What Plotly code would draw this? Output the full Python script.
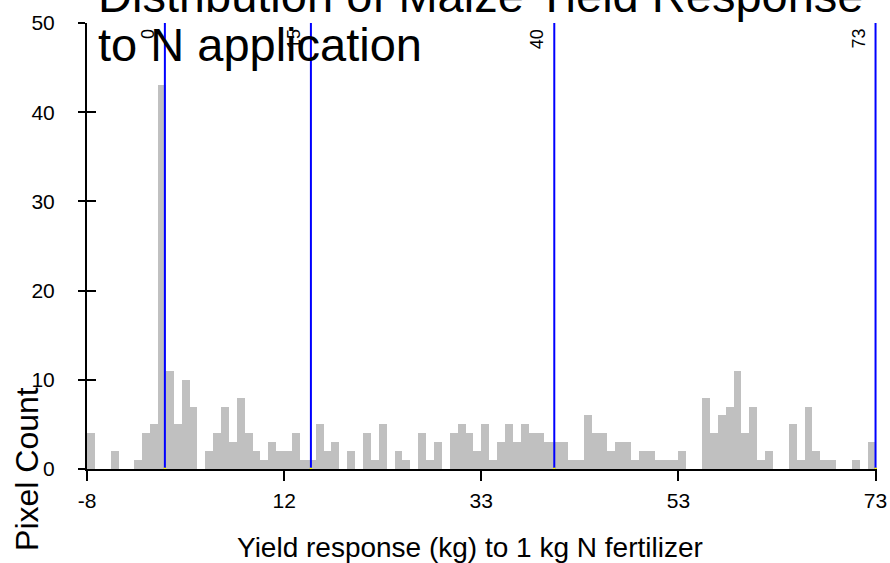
import plotly.graph_objects as go

# Histogram of maize yield response (kg grain per kg N), 100 equal bins
bin_start = -8.0
bin_width = 0.81
pixel_counts = [
    4, 0, 0, 2, 0, 0, 1, 4, 5, 43,
    11, 5, 10, 7, 0, 2, 4, 7, 3, 8,
    4, 2, 1, 3, 2, 2, 4, 1, 1, 5,
    2, 3, 0, 2, 0, 4, 1, 5, 0, 2,
    1, 0, 4, 1, 3, 0, 4, 5, 4, 2,
    5, 1, 3, 5, 3, 5, 4, 4, 3, 3,
    3, 1, 1, 6, 4, 4, 2, 3, 3, 1,
    2, 2, 1, 1, 1, 2, 0, 0, 8, 4,
    6, 7, 11, 4, 7, 1, 2, 0, 0, 5,
    1, 7, 2, 1, 1, 0, 0, 1, 0, 3,
]

# Class break values marked on the histogram
class_breaks = [0, 15, 40, 73]
break_labels = ["0", "15", "40", "73"]

# Axis ticks
x_tickvals = [-8, 12.25, 32.5, 52.75, 73]
x_ticktext = ["-8", "12", "33", "53", "73"]
y_tickvals = [0, 10, 20, 30, 40, 50]

bin_centers = [bin_start + bin_width * (i + 0.5) for i in range(len(pixel_counts))]

text_font = "Liberation Sans, Arial, sans-serif"
tick_font = dict(family=text_font, size=21, color="black")

fig = go.Figure()

fig.add_trace(go.Bar(
    x=bin_centers,
    y=pixel_counts,
    width=bin_width,
    marker=dict(color="#C0C0C0", line=dict(width=0)),
    showlegend=False,
    hoverinfo="x+y",
))

# Vertical class-break lines
line_x, line_y = [], []
for b in class_breaks:
    line_x += [b, b, None]
    line_y += [0, 50, None]
fig.add_trace(go.Scatter(
    x=line_x, y=line_y, mode="lines",
    line=dict(color="#0000FF", width=2),
    yaxis="y2", showlegend=False, hoverinfo="skip", cliponaxis=False,
))
fig.add_trace(go.Scatter(
    x=class_breaks, y=[0] * len(class_breaks), mode="markers",
    marker=dict(color="#FFFF00", size=3, line=dict(width=0)),
    yaxis="y2", showlegend=False, hoverinfo="skip", cliponaxis=False,
))

annotations = []
for b, lab in zip(class_breaks, break_labels):
    annotations.append(dict(
        x=b, y=50, xref="x", yref="y", text=lab, showarrow=False,
        textangle=-90, xanchor="right", yanchor="top", xshift=-5, yshift=-4,
        font=dict(family=text_font, size=18, color="black"),
    ))

# Two-line title, set as separate lines for tight line spacing
annotations.append(dict(
    x=0.0114, y=1.0617, xref="paper", yref="paper",
    text="Distribution of Maize Yield Response", showarrow=False,
    xanchor="left", yanchor="middle",
    font=dict(family=text_font, size=47, color="black"),
))
annotations.append(dict(
    x=0.0114, y=0.9518, xref="paper", yref="paper",
    text="to N application", showarrow=False,
    xanchor="left", yanchor="middle",
    font=dict(family=text_font, size=47, color="black"),
))

# Axis titles
annotations.append(dict(
    x=0.4854, y=-0.177, xref="paper", yref="paper",
    text="Yield response (kg) to 1 kg N fertilizer", showarrow=False,
    xanchor="center", yanchor="middle",
    font=dict(family=text_font, size=28, color="black"),
))
annotations.append(dict(
    x=-0.076, y=0.0, xref="paper", yref="paper",
    text="Pixel Count", showarrow=False, textangle=-90,
    xanchor="center", yanchor="middle",
    font=dict(family=text_font, size=32, color="black"),
))

fig.update_layout(
    width=890, height=563,
    margin=dict(l=87, r=13, t=23, b=94, autoexpand=False),
    paper_bgcolor="white", plot_bgcolor="white",
    bargap=0,
    annotations=annotations,
    xaxis=dict(
        range=[-8, 73.15], tickvals=x_tickvals, ticktext=x_ticktext,
        showgrid=False, zeroline=False, automargin=False,
        showline=True, linecolor="black", linewidth=2,
        ticks="outside", ticklen=10, tickwidth=2, tickcolor="black",
        tickfont=tick_font, ticklabelstandoff=2,
    ),
    yaxis=dict(
        range=[0, 50], tickvals=y_tickvals, automargin=False,
        showgrid=False, zeroline=False,
        showline=True, linecolor="black", linewidth=2,
        ticks="outside", ticklen=7, tickwidth=2, tickcolor="black",
        tickfont=tick_font, ticklabelstandoff=19,
    ),
    yaxis2=dict(
        range=[0, 50], tickvals=y_tickvals, overlaying="y", anchor="x",
        side="left", showgrid=False, zeroline=False, showline=True,
        linecolor="black", linewidth=2, automargin=False,
        ticks="inside", ticklen=9, tickwidth=2, tickcolor="black",
        showticklabels=True, tickfont=dict(color="rgba(0,0,0,0)", size=1),
    ),
)

fig.write_html("out.html")
